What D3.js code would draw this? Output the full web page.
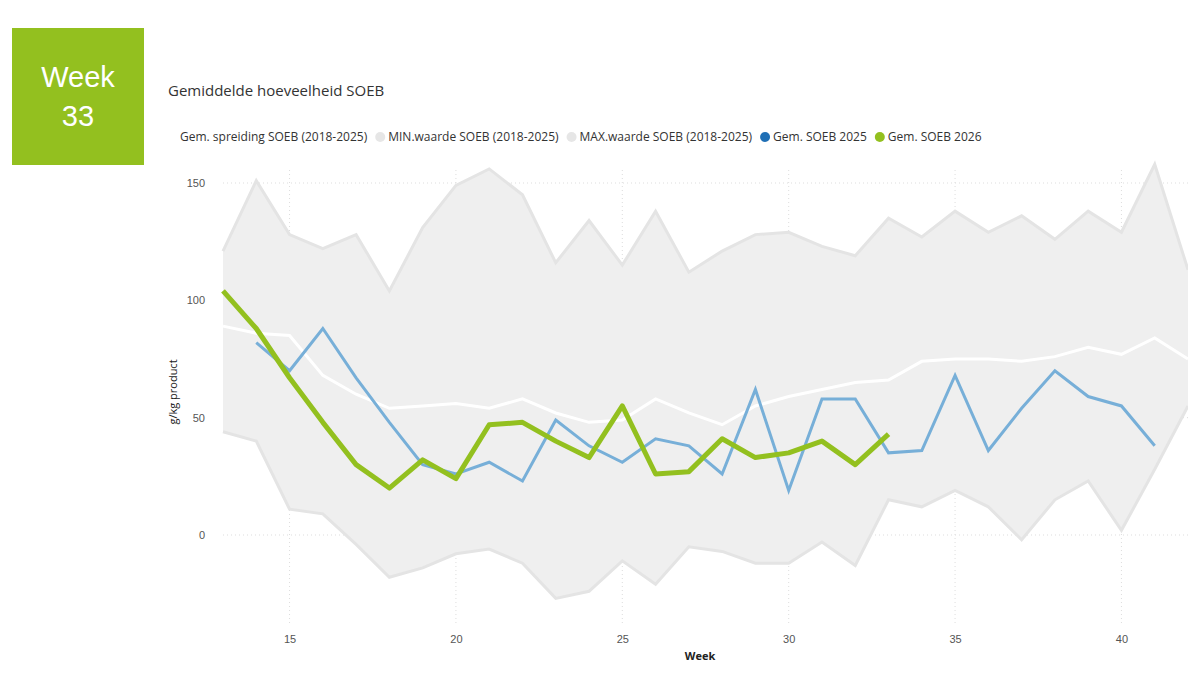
<!DOCTYPE html>
<html><head><meta charset="utf-8">
<script src="https://cdn.jsdelivr.net/npm/d3@7"></script>
<style>body{margin:0;background:#fff;font-family:"Segoe UI","Open Sans",sans-serif}</style>
</head><body><svg id="c" width="1188" height="694"></svg>
<script>
const weeks = d3.range(13, 43);
const maxVals = [121,151,128,122,128,104,131,149,156,145,116,134,115,138,112,121,128,129,123,119,135,127,138,129,136,126,138,129,158,113];
const minVals = [44,40,11,9,-4,-18,-14,-8,-6,-12,-27,-24,-11,-21,-5,-7,-12,-12,-3,-13,15,12,19,12,-2,15,23,2,28,55];
const avgVals = [89,86,85,68,60,54,55,56,54,58,52,48,49,58,52,47,55,59,62,65,66,74,75,75,74,76,80,77,84,75];
const weeks2025 = d3.range(14, 42);
const soeb2025 = [82,70,88,67,48,30,26,31,23,49,38,31,41,38,26,62,19,58,58,35,36,68,36,54,70,59,55,38];
const weeks2026 = d3.range(13, 34);
const soeb2026 = [104,88,67,48,30,20,32,24,47,48,40,33,55,26,27,41,33,35,40,30,43];
const xTicks = [15,20,25,30,35,40];
const yTicks = [0,50,100,150];

const svg = d3.select("#c");
const x = d3.scaleLinear().domain([13, 42]).range([223, 1188]);
const y = d3.scaleLinear().domain([0, 150]).range([535, 183]);

// title tile
svg.append("rect").attr("x",12).attr("y",28).attr("width",132).attr("height",137).attr("fill","#93c01f");
svg.append("text").attr("x",78).attr("y",87).attr("text-anchor","middle").attr("fill","#fff")
  .style("font-family","Liberation Sans, Arial").style("font-size","29px").text("Week");
svg.append("text").attr("x",78).attr("y",126).attr("text-anchor","middle").attr("fill","#fff")
  .style("font-family","Liberation Sans, Arial").style("font-size","29px").text("33");

svg.append("text").attr("x",168).attr("y",96).attr("fill","#333").style("font-size","15px").text("Gemiddelde hoeveelheid SOEB");

// legend
const legend = [
  ["Gem. spreiding SOEB (2018-2025)", null],
  ["MIN.waarde SOEB (2018-2025)", "#e6e6e6"],
  ["MAX.waarde SOEB (2018-2025)", "#e6e6e6"],
  ["Gem. SOEB 2025", "#1f6fb5"],
  ["Gem. SOEB 2026", "#93c01f"]];
let lx = 180;
legend.forEach(([t, c]) => {
  if (c) { svg.append("circle").attr("cx", lx + 5).attr("cy", 137).attr("r", 5).attr("fill", c); lx += 13; }
  const tx = svg.append("text").attr("x", lx).attr("y", 141).attr("fill","#333").style("font-size","12px").text(t);
  lx += tx.node().getComputedTextLength() + 8;
});

// grid
svg.append("g").selectAll("line").data(yTicks).join("line")
  .attr("x1",223).attr("x2",1188).attr("y1",d=>y(d)).attr("y2",d=>y(d))
  .attr("stroke","#ddd").attr("stroke-dasharray","1,3");
svg.append("g").selectAll("line").data(xTicks).join("line")
  .attr("x1",d=>x(d)).attr("x2",d=>x(d)).attr("y1",170).attr("y2",625)
  .attr("stroke","#ddd").attr("stroke-dasharray","1,3");

// band
const band = weeks.map((w,i)=>({w, lo:minVals[i], hi:maxVals[i]}));
svg.append("path").datum(band).attr("fill","#efefef")
  .attr("d", d3.area().x(d=>x(d.w)).y0(d=>y(d.lo)).y1(d=>y(d.hi)));
svg.append("path").datum(band).attr("fill","none").attr("stroke","#e4e4e4").attr("stroke-width",3)
  .attr("d", d3.line().x(d=>x(d.w)).y(d=>y(d.hi)));
svg.append("path").datum(band).attr("fill","none").attr("stroke","#e4e4e4").attr("stroke-width",3)
  .attr("d", d3.line().x(d=>x(d.w)).y(d=>y(d.lo)));

const line = d3.line().x(d=>x(d[0])).y(d=>y(d[1]));
svg.append("path").datum(weeks.map((w,i)=>[w,avgVals[i]])).attr("fill","none").attr("stroke","#fff").attr("stroke-width",3).attr("d",line);
svg.append("path").datum(weeks2025.map((w,i)=>[w,soeb2025[i]])).attr("fill","none").attr("stroke","#77afd8").attr("stroke-width",3).attr("d",line);
svg.append("path").datum(weeks2026.map((w,i)=>[w,soeb2026[i]])).attr("fill","none").attr("stroke","#93c01f").attr("stroke-width",5).attr("stroke-linejoin","round").attr("d",line);

// axes
const ax = svg.append("g").attr("transform","translate(0,632)").call(d3.axisBottom(x).tickValues(xTicks).tickSize(0));
ax.select(".domain").remove();
ax.selectAll("text").attr("fill","#555").style("font-size","11px");
const ay = svg.append("g").attr("transform","translate(208,0)").call(d3.axisLeft(y).tickValues(yTicks).tickSize(0));
ay.select(".domain").remove();
ay.selectAll("text").attr("fill","#555").style("font-size","11px");

svg.append("text").attr("x",700).attr("y",660).attr("text-anchor","middle").attr("fill","#222")
  .style("font-size","11px").style("font-weight","bold").text("Week");
svg.append("text").attr("transform","translate(177,392) rotate(-90)").attr("text-anchor","middle").attr("fill","#222")
  .style("font-size","11px").text("g/kg product");
</script></body></html>
